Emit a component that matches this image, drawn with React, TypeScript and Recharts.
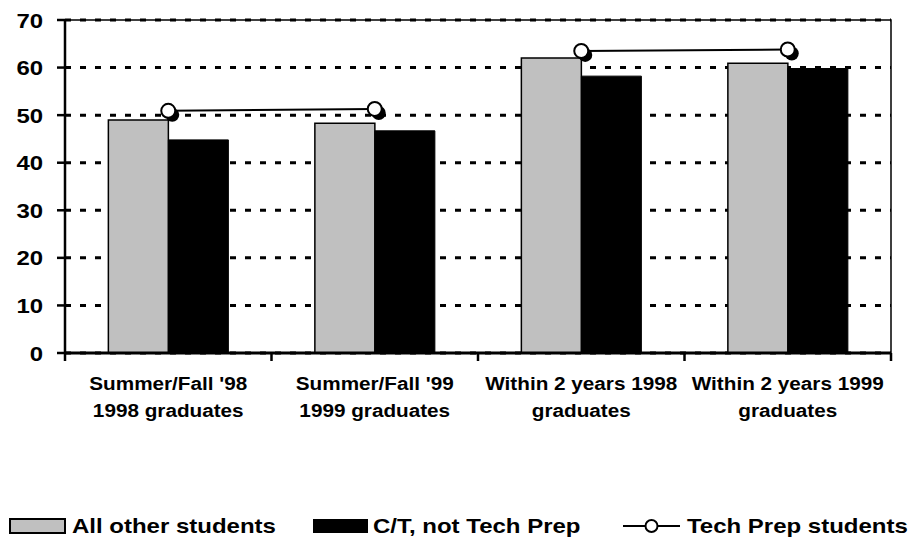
import {
  Bar,
  CartesianGrid,
  ComposedChart,
  Line,
  ReferenceArea,
  XAxis,
  YAxis,
} from "recharts";

// categories on the x axis, two lines each
const categories = [
  "Summer/Fall '98\n1998 graduates",
  "Summer/Fall '99\n1999 graduates",
  "Within 2 years 1998\ngraduates",
  "Within 2 years 1999\ngraduates",
];

// percentages
const allOther = [49.0, 48.3, 62.0, 60.9];
const ctNotTechPrep = [44.8, 46.7, 58.2, 59.8];
const techPrep = [50.9, 51.3, 63.5, 63.8];
// the Tech Prep line is drawn as two separate pairs
const techPrepSegment = [0, 0, 1, 1];

const yTicks = [0, 10, 20, 30, 40, 50, 60, 70];
// tick marks sit on the borders between categories
const boundaryTicks = [0, 1, 2, 3, 4];

const seriesNames = ["All other students", "C/T, not Tech Prep", "Tech Prep students"];

const FONT = "'Liberation Sans', Arial, Helvetica, sans-serif";

const data = categories.map((c, i) => ({
  cat: c,
  other: allOther[i],
  ct: ctNotTechPrep[i],
  tp0: techPrepSegment[i] === 0 ? techPrep[i] : null,
  tp1: techPrepSegment[i] === 1 ? techPrep[i] : null,
}));

function YTick({ x, y, payload }: any) {
  return (
    <text
      transform={`translate(${x},${y + 7.5}) scale(1.14,1)`}
      textAnchor="end"
      fontFamily={FONT}
      fontWeight="bold"
      fontSize={21}
      fill="#000"
    >
      {payload.value}
    </text>
  );
}

function CatTick({ x, y, payload }: any) {
  const lines = String(payload.value).split("\n");
  return (
    <g>
      {lines.map((ln, i) => (
        <text
          key={i}
          transform={`translate(${x},${y + 36 + i * 27}) scale(1.12,1)`}
          textAnchor="middle"
          fontFamily={FONT}
          fontWeight="bold"
          fontSize={18.5}
          fill="#000"
        >
          {ln}
        </text>
      ))}
    </g>
  );
}

function NoLabel() {
  return <g />;
}

function ShadowDot({ cx, cy, index, value }: any) {
  if (cx == null || cy == null || value == null) return <g key={index} />;
  return (
    <g key={index}>
      <circle cx={cx + 4} cy={cy + 4} r={7} fill="#000" />
      <circle cx={cx} cy={cy} r={7} fill="#fff" stroke="#000" strokeWidth={2} />
    </g>
  );
}

function LegendText({ x, children }: { x: number; children: string }) {
  return (
    <text
      transform={`translate(${x},33) scale(1.2,1)`}
      fontFamily={FONT}
      fontWeight="bold"
      fontSize={20}
      fill="#000"
    >
      {children}
    </text>
  );
}

export default function App() {
  return (
    <div style={{ position: "absolute", left: 0, top: 0, width: 923, height: 539, background: "#fff" }}>
      <ComposedChart
        width={923}
        height={539}
        data={data}
        margin={{ top: 20, right: 32, bottom: 0, left: 0 }}
        barCategoryGap="21%"
        barGap={0}
      >
        <CartesianGrid
          vertical={false}
          stroke="#000"
          strokeWidth={3}
          strokeDasharray="6 9"
          yAxisId="y"
          xAxisId="cat"
        />
        <ReferenceArea
          yAxisId="y"
          xAxisId="cat"
          y1={0}
          y2={70}
          fill="none"
          stroke="#000"
          strokeWidth={1.5}
        />
        <XAxis
          xAxisId="aEdge"
          type="number"
          dataKey="edgeUnused"
          scale="linear"
          domain={[0, 4]}
          allowDataOverflow
          ticks={boundaryTicks}
          interval={0}
          height={1}
          tick={<NoLabel />}
          tickSize={8}
          axisLine={{ stroke: "#000", strokeWidth: 3 }}
          tickLine={{ stroke: "#000", strokeWidth: 2.5 }}
        />
        <XAxis
          xAxisId="cat"
          dataKey="cat"
          height={185}
          axisLine={false}
          tickLine={false}
          tickSize={0}
          tickMargin={0}
          interval={0}
          tick={<CatTick />}
        />
        <YAxis
          yAxisId="y"
          domain={[0, 70]}
          ticks={yTicks}
          width={65}
          tickSize={8}
          tickMargin={14}
          interval={0}
          axisLine={{ stroke: "#000", strokeWidth: 2.5 }}
          tickLine={{ stroke: "#000", strokeWidth: 2.5 }}
          tick={<YTick />}
        />
        <Bar
          xAxisId="cat"
          yAxisId="y"
          dataKey="other"
          name={seriesNames[0]}
          fill="#C0C0C0"
          stroke="#000"
          strokeWidth={1.5}
          isAnimationActive={false}
        />
        <Bar
          xAxisId="cat"
          yAxisId="y"
          dataKey="ct"
          name={seriesNames[1]}
          fill="#000"
          stroke="#000"
          strokeWidth={1}
          isAnimationActive={false}
        />
        {["tp0", "tp1"].map((k) => (
          <Line
            key={k}
            xAxisId="cat"
            yAxisId="y"
            dataKey={k}
            name={seriesNames[2]}
            type="linear"
            stroke="#000"
            strokeWidth={2}
            dot={<ShadowDot />}
            activeDot={false}
            connectNulls={false}
            isAnimationActive={false}
          />
        ))}
      </ComposedChart>
      <svg
        width={923}
        height={39}
        style={{ position: "absolute", left: 0, top: 500 }}
      >
        <rect x={10} y={19} width={55} height={14} fill="#C0C0C0" stroke="#000" strokeWidth={2} />
        <LegendText x={72}>{seriesNames[0]}</LegendText>
        <rect x={313} y={19} width={55} height={14} fill="#000" />
        <LegendText x={373}>{seriesNames[1]}</LegendText>
        <line x1={623} y1={26} x2={680} y2={26} stroke="#000" strokeWidth={2} />
        <circle cx={651.5} cy={26} r={6} fill="#fff" stroke="#000" strokeWidth={2} />
        <LegendText x={687}>{seriesNames[2]}</LegendText>
      </svg>
    </div>
  );
}
